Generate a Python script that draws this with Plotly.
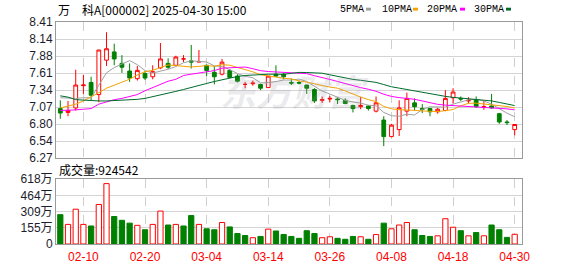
import plotly.graph_objects as go
import pandas as pd

# ---------------- data ----------------
dates = ["02-05", "02-06", "02-07", "02-10", "02-11", "02-12", "02-13", "02-14", "02-17", "02-18",
         "02-19", "02-20", "02-21", "02-24", "02-25", "02-26", "02-27", "02-28", "03-03", "03-04",
         "03-05", "03-06", "03-07", "03-10", "03-11", "03-12", "03-13", "03-14", "03-17", "03-18",
         "03-19", "03-20", "03-21", "03-24", "03-25", "03-26", "03-27", "03-28", "03-31", "04-01",
         "04-02", "04-03", "04-07", "04-08", "04-09", "04-10", "04-11", "04-14", "04-15", "04-16",
         "04-17", "04-18", "04-21", "04-22", "04-23", "04-24", "04-25", "04-28", "04-29", "04-30"]

open_ = [7.05, 6.99, 7.06, 7.41, 7.46, 7.27, 7.81, 7.94, 7.76, 7.64,
         7.52, 7.60, 7.55, 7.69, 7.76, 7.73, 7.83, 7.80, 7.78, 7.73,
         7.62, 7.59, 7.65, 7.56, 7.43, 7.44, 7.43, 7.38, 7.59, 7.59,
         7.46, 7.46, 7.42, 7.35, 7.18, 7.20, 7.20, 7.18, 7.10, 7.08,
         7.09, 7.01, 6.87, 6.61, 6.72, 7.01, 7.14, 7.05, 7.05, 7.00,
         7.02, 7.22, 7.21, 7.17, 7.19, 7.07, 7.09, 6.97, 6.84, 6.72]
high = [7.18, 7.17, 7.66, 7.58, 7.55, 7.97, 8.25, 8.07, 7.89, 7.76,
        7.72, 7.64, 7.73, 8.08, 7.84, 7.88, 7.89, 8.05, 7.97, 7.74,
        7.72, 7.83, 7.67, 7.59, 7.47, 7.49, 7.44, 7.56, 7.73, 7.61,
        7.52, 7.49, 7.42, 7.37, 7.24, 7.25, 7.23, 7.21, 7.11, 7.23,
        7.10, 7.24, 6.93, 6.81, 7.18, 7.30, 7.21, 7.12, 7.05, 7.06,
        7.34, 7.37, 7.24, 7.23, 7.24, 7.17, 7.28, 6.98, 6.87, 6.80]
low = [6.89, 6.93, 7.02, 7.28, 7.18, 7.15, 7.72, 7.73, 7.61, 7.47,
       7.49, 7.50, 7.51, 7.67, 7.67, 7.72, 7.78, 7.68, 7.78, 7.56,
       7.43, 7.57, 7.53, 7.46, 7.37, 7.41, 7.34, 7.38, 7.55, 7.51,
       7.42, 7.43, 7.28, 7.14, 7.14, 7.15, 7.12, 7.12, 6.99, 7.04,
       7.02, 6.99, 6.46, 6.60, 6.62, 6.93, 7.02, 6.98, 6.93, 6.97,
       7.01, 7.13, 7.17, 7.13, 7.06, 7.03, 7.05, 6.81, 6.79, 6.63]
close = [6.98, 7.02, 7.42, 7.42, 7.26, 7.97, 7.99, 7.83, 7.70, 7.53,
         7.65, 7.53, 7.63, 7.83, 7.70, 7.86, 7.83, 7.78, 7.79, 7.65,
         7.55, 7.78, 7.54, 7.48, 7.43, 7.45, 7.37, 7.56, 7.56, 7.55,
         7.45, 7.45, 7.37, 7.17, 7.19, 7.21, 7.19, 7.13, 7.05, 7.10,
         7.05, 7.14, 6.61, 6.79, 7.06, 7.21, 7.08, 7.04, 7.00, 7.04,
         7.21, 7.31, 7.20, 7.18, 7.08, 7.08, 7.06, 6.84, 6.83, 6.80]
# volume in 万
volume = [280, 187, 332, 187, 172, 377, 576, 262, 226, 199,
          178, 136, 187, 314, 181, 187, 172, 271, 187, 145,
          136, 205, 163, 100, 81, 60, 72, 142, 124, 90,
          72, 54, 127, 100, 60, 69, 54, 45, 72, 69,
          45, 90, 199, 145, 181, 205, 136, 81, 72, 78,
          241, 160, 127, 78, 109, 78, 181, 136, 63, 92.4542]

# moving-average values before a full window exists
ma5_head = [7.22, 7.21, 7.21, 7.22]
ma10_head = [7.06, 7.09, 7.12, 7.17, 7.23, 7.30, 7.37, 7.42, 7.46]
ma20_head = [7.02, 7.02, 7.03, 7.04, 7.05, 7.12, 7.16, 7.19, 7.21, 7.24,
             7.27, 7.33, 7.38, 7.43, 7.48, 7.51, 7.57, 7.59, 7.61]
ma30_head = [7.25, 7.23, 7.19, 7.18, 7.175, 7.17, 7.17, 7.175, 7.18, 7.185,
             7.195, 7.21, 7.235, 7.26, 7.29, 7.32, 7.35, 7.385, 7.415, 7.445,
             7.475, 7.505, 7.535, 7.555, 7.57, 7.58, 7.59, 7.59, 7.59]

label_dates = ["02-10", "02-20", "03-04", "03-14", "03-26", "04-08", "04-18", "04-30"]
price_ticks = ["6.27", "6.54", "6.80", "7.07", "7.34", "7.61", "7.88", "8.14", "8.41"]
price_lo, price_hi = 6.27, 8.41
vol_ticks = ["0", "155万", "309万", "464万", "618万"]
vol_hi = 618

title_text = "万\u3000科A[000002] 2025-04-30 15:00"
vol_label = "成交量:924542"
ma_names = ["5PMA", "10PMA", "20PMA", "30PMA"]
watermark = "东方财富"

# ---------------- styles ----------------
RED = "#ff0000"
GREEN = "#008000"
MA_COLORS = ["#a0a0a0", "#f5a300", "#ff00ff", "#006b2c"]
GRID = "#d4d4d4"
BORDER = "#9a9a9a"

W, H = 578, 276
L, R, T, B = 56, 56, 22, 21
PW, PH = W - L - R, H - T - B


def px_x(px):
    return (px - L) / PW


def px_y(py):
    return (H - B - py) / PH


n = len(close)
xs = list(range(n))
cs = pd.Series(close)


def ma(win, head):
    vals = cs.rolling(win).mean().tolist()
    return [head[i] if i < win - 1 else vals[i] for i in range(n)]


mas = [ma(5, ma5_head), ma(10, ma10_head), ma(20, ma20_head), ma(30, ma30_head)]

up = [i for i in range(n) if close[i] >= open_[i]]
dn = [i for i in range(n) if close[i] < open_[i]]


def candle(idx, color, fill):
    st = dict(line=dict(color=color, width=1), fillcolor=fill)
    return go.Candlestick(
        x=[xs[i] for i in idx], open=[open_[i] for i in idx], high=[high[i] for i in idx],
        low=[low[i] for i in idx], close=[close[i] for i in idx],
        increasing=st, decreasing=st, whiskerwidth=0, showlegend=False,
        text=[dates[i] for i in idx], hoverinfo="text+y", xaxis="x", yaxis="y")


fig = go.Figure()
for k in range(4):
    fig.add_trace(go.Scatter(x=xs, y=mas[k], mode="lines", line=dict(color=MA_COLORS[k], width=1),
                             showlegend=False, hoverinfo="skip", xaxis="x", yaxis="y"))
fig.add_trace(candle(up, RED, "#ffffff"))
fig.add_trace(candle(dn, GREEN, GREEN))

# volume colors
vfill, vline = [], []
for i in range(n):
    if close[i] > open_[i]:
        u = True
    elif close[i] < open_[i]:
        u = False
    else:
        u = i == 0 or close[i] >= close[i - 1]
    vfill.append("#ffffff" if u else GREEN)
    vline.append(RED if u else GREEN)

fig.add_trace(go.Bar(x=xs, y=volume, width=0.68, marker=dict(color=vfill, line=dict(color=vline, width=1)),
                     showlegend=False, xaxis="x2", yaxis="y2", text=dates, hoverinfo="text+y",
                     textposition="none"))

label_pos = [dates.index(d) for d in label_dates]
xr = [-0.56, n - 0.05]
step_p = (price_hi - price_lo) / (len(price_ticks) - 1)
p_vals = [price_lo + k * step_p for k in range(len(price_ticks))]
v_vals = [vol_hi * k / (len(vol_ticks) - 1) for k in range(len(vol_ticks))]

tickfont = dict(family="Liberation Sans, Noto Sans CJK SC", size=12, color="#1c1c2c")
common_x = dict(range=xr, tickvals=label_pos, showgrid=True, gridcolor="#cfcfcf", griddash="dash",
                gridwidth=1, zeroline=False, showline=True, mirror=True, linecolor=BORDER, linewidth=1,
                ticks="", fixedrange=True)
common_y = dict(showgrid=True, gridcolor=GRID, gridwidth=1, zeroline=False, showline=True, mirror=True,
                linecolor=BORDER, linewidth=1, ticks="", tickfont=tickfont, fixedrange=True)

fig.update_layout(
    width=W, height=H, autosize=False,
    margin=dict(l=L, r=R, t=T, b=B, pad=0),
    paper_bgcolor="#ffffff", plot_bgcolor="#ffffff",
    showlegend=False,
    boxgap=0.3,
    xaxis=dict(domain=[0, 1], anchor="y", showticklabels=False, rangeslider=dict(visible=False), **common_x),
    xaxis2=dict(domain=[0, 1], anchor="y2", matches="x", showticklabels=True, ticktext=label_dates,
                tickfont=dict(family="Liberation Sans", size=12, color=RED), ticklabelstandoff=2, **common_x),
    yaxis=dict(domain=[px_y(165), 1], range=[price_lo, price_hi], tickvals=p_vals, ticktext=price_ticks,
               **common_y),
    yaxis2=dict(domain=[0, px_y(187)], range=[0, vol_hi], tickvals=v_vals, ticktext=vol_ticks, **common_y),
    hovermode="closest",
)

annos = [
    dict(text=watermark, x=px_x(294), y=px_y(93), xref="paper", yref="paper", showarrow=False,
         xanchor="center", yanchor="middle",
         font=dict(family="Noto Sans CJK SC", size=36, color="rgba(150,150,165,0.20)", weight="bold",
                   style="italic")),
    dict(text=title_text, x=px_x(56), y=px_y(8.5), xref="paper", yref="paper", xanchor="left",
         yanchor="middle", showarrow=False, font=dict(family="Noto Sans CJK SC", size=12, color="#000000")),
    dict(text=vol_label, x=px_x(57), y=px_y(177), xref="paper", yref="paper", xanchor="left",
         yanchor="middle", showarrow=False, font=dict(family="Noto Sans CJK SC", size=12, color="#000000")),
]
leg_x = [338, 380, 425, 472]
sq_x = [366, 413, 460, 506]
for k in range(4):
    annos.append(dict(text=ma_names[k], x=px_x(leg_x[k]), y=px_y(8.5), xref="paper", yref="paper",
                      xanchor="left", yanchor="middle", showarrow=False,
                      font=dict(family="Liberation Mono", size=10, color="#000000")))
fig.update_layout(annotations=annos)

shapes = []
for k in range(4):
    shapes.append(dict(type="rect", xref="paper", yref="paper", x0=px_x(sq_x[k]), x1=px_x(sq_x[k] + 5),
                       y0=px_y(10), y1=px_y(7), fillcolor=MA_COLORS[k], line=dict(width=0)))
fig.update_layout(shapes=shapes)

fig.write_html("out.html", config={"displayModeBar": False})
